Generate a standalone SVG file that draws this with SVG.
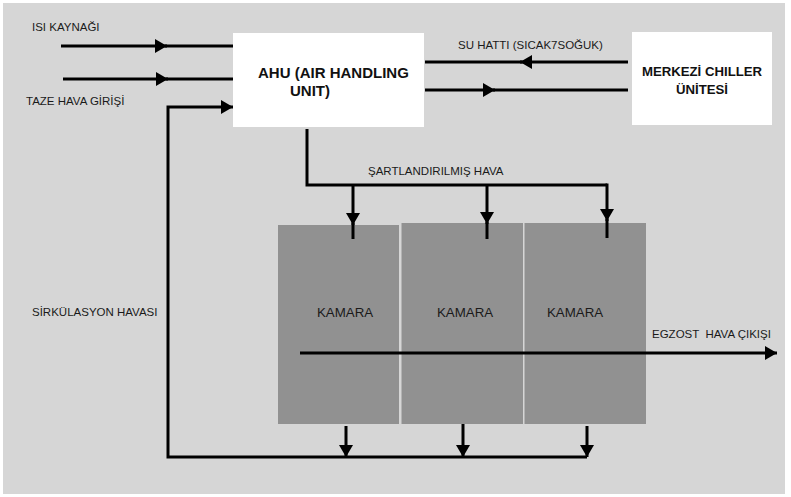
<svg xmlns="http://www.w3.org/2000/svg" width="791" height="497" viewBox="0 0 791 497">
<defs>
<style>
.lbl{font-family:"Liberation Sans",Arial,sans-serif;font-size:11.5px;fill:#1a1a1a;white-space:pre}
.box{font-family:"Liberation Sans",Arial,sans-serif;font-weight:bold;fill:#111}
.kam{font-family:"Liberation Sans",Arial,sans-serif;font-size:13.3px;fill:#1a1a1a}
.ln{fill:none;stroke:#000;stroke-width:3}
.wbox{fill:#fff}
.kbox{fill:#919191}
</style>
<marker id="ah" viewBox="0 0 12 14" refX="12" refY="7" markerWidth="12" markerHeight="14" markerUnits="userSpaceOnUse" orient="auto">
<path d="M0,0 L12,7 L0,14 Z" fill="#000"/>
</marker>
</defs>
<rect x="0" y="0" width="791" height="497" fill="#fff"/>
<rect x="3" y="3" width="782" height="491" fill="#d6d6d6"/>

<g id="ahu">
<rect class="wbox" x="233" y="33" width="191" height="94"/>
<text class="box" font-size="15" x="258" y="78">AHU (AIR HANDLING</text>
<text class="box" font-size="15" x="290" y="96">UNIT)</text>
</g>
<g id="chiller">
<rect class="wbox" x="632" y="32" width="140" height="93"/>
<text class="box" font-size="13.2" x="702" y="76" text-anchor="middle">MERKEZİ CHILLER</text>
<text class="box" font-size="13.2" x="702" y="94" text-anchor="middle">ÜNİTESİ</text>
</g>
<g id="kamara1">
<rect class="kbox" x="278" y="225" width="121" height="199"/>
<text class="kam" x="317" y="317">KAMARA</text>
</g>
<g id="kamara2">
<rect class="kbox" x="401.5" y="223" width="121.5" height="201"/>
<text class="kam" x="437" y="317">KAMARA</text>
</g>
<g id="kamara3">
<rect class="kbox" x="524.5" y="223" width="121.5" height="201"/>
<text class="kam" x="547" y="317">KAMARA</text>
</g>

<g id="labels">
<text class="lbl" x="32" y="31">ISI KAYNAĞI</text>
<text class="lbl" x="26" y="105">TAZE HAVA GİRİŞİ</text>
<text class="lbl" x="458" y="49">SU HATTI (SICAK7SOĞUK)</text>
<text class="lbl" x="368" y="175">ŞARTLANDIRILMIŞ HAVA</text>
<text class="lbl" x="32" y="316">SİRKÜLASYON HAVASI</text>
<text class="lbl" x="652" y="338">EGZOST  HAVA ÇIKIŞI</text>
</g>

<g id="connectors">
<!-- heat source -->
<line class="ln" x1="61" y1="46" x2="167" y2="46" marker-end="url(#ah)"/>
<line class="ln" x1="165" y1="46" x2="233" y2="46"/>
<!-- fresh air -->
<line class="ln" x1="63" y1="79" x2="168" y2="79" marker-end="url(#ah)"/>
<line class="ln" x1="166" y1="79" x2="233" y2="79"/>
<!-- water lines -->
<line class="ln" x1="628" y1="62" x2="520" y2="62" marker-end="url(#ah)"/>
<line class="ln" x1="522" y1="62" x2="425" y2="62"/>
<line class="ln" x1="425" y1="90" x2="495" y2="90" marker-end="url(#ah)"/>
<line class="ln" x1="493" y1="90" x2="628" y2="90"/>
<!-- conditioned air -->
<polyline class="ln" points="307,129 307,185 607,185"/>
<line class="ln" x1="353" y1="185" x2="353" y2="225" marker-end="url(#ah)"/>
<line class="ln" x1="353" y1="223" x2="353" y2="239"/>
<line class="ln" x1="487" y1="185" x2="487" y2="224" marker-end="url(#ah)"/>
<line class="ln" x1="487" y1="222" x2="487" y2="239"/>
<line class="ln" x1="607" y1="183.5" x2="607" y2="221" marker-end="url(#ah)"/>
<line class="ln" x1="607" y1="219" x2="607" y2="238"/>
<!-- exhaust -->
<line class="ln" x1="300" y1="353" x2="777" y2="353" marker-end="url(#ah)"/>
<!-- return from chambers -->
<line class="ln" x1="346" y1="426" x2="346" y2="457" marker-end="url(#ah)"/>
<line class="ln" x1="463" y1="424" x2="463" y2="457" marker-end="url(#ah)"/>
<line class="ln" x1="587" y1="426" x2="587" y2="457" marker-end="url(#ah)"/>
<!-- recirculation -->
<polyline class="ln" points="587,457 168,457 168,107 233,107" marker-end="url(#ah)"/>
</g>
</svg>
